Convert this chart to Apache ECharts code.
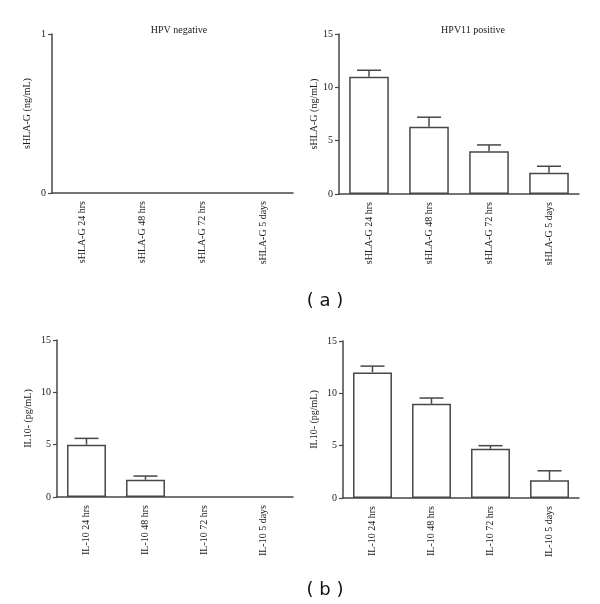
<!DOCTYPE html>
<html>
<head>
<meta charset="utf-8">
<script src="https://cdn.jsdelivr.net/npm/echarts@6/dist/echarts.min.js"></script>
<style>html,body{margin:0;padding:0;background:#fff;}#c{width:600px;height:604px;}</style>
</head>
<body>
<div id="c"></div>
<script>
const categoriesHLA = ['sHLA-G 24 hrs', 'sHLA-G 48 hrs', 'sHLA-G 72 hrs', 'sHLA-G 5 days'];
const categoriesIL = ['IL-10 24 hrs', 'IL-10 48 hrs', 'IL-10 72 hrs', 'IL-10 5 days'];
const hlaNeg = [0, 0, 0, 0];
const hlaNegErr = [0, 0, 0, 0];
const hlaPos = [11.0, 6.3, 4.0, 2.0];
const hlaPosErr = [0.6, 0.9, 0.6, 0.6];
const ilNeg = [5.0, 1.65, 0, 0];
const ilNegErr = [0.6, 0.35, 0, 0];
const ilPos = [12.0, 9.0, 4.7, 1.7];
const ilPosErr = [0.6, 0.55, 0.3, 0.9];
const titles = ['HPV negative', 'HPV11 positive'];
const yNames = ['sHLA-G (ng/mL)', 'sHLA-G (ng/mL)', 'IL10- (pg/mL)', 'IL10- (pg/mL)'];
const yMax = [1, 15, 15, 15];
const yInterval = [1, 5, 5, 5];

const SERIF = '"Liberation Serif", "DejaVu Serif", serif';
const LINE = '#474747';
const TEXT = '#1a1a1a';

const panels = [
  {cats: categoriesHLA, vals: hlaNeg, errs: hlaNegErr, grid: {left: 52, top: 34, width: 241, height: 159}},
  {cats: categoriesHLA, vals: hlaPos, errs: hlaPosErr, grid: {left: 339, top: 34, width: 240, height: 160}},
  {cats: categoriesIL, vals: ilNeg, errs: ilNegErr, grid: {left: 57, top: 340, width: 236, height: 157}},
  {cats: categoriesIL, vals: ilPos, errs: ilPosErr, grid: {left: 343, top: 341, width: 236, height: 157}}
];

const grid = [], xAxis = [], yAxis = [], series = [];
panels.forEach((p, i) => {
  grid.push(Object.assign({containLabel: false}, p.grid));
  xAxis.push({
    type: 'category', gridIndex: i, data: p.cats,
    axisLine: {lineStyle: {color: LINE, width: 1.5}},
    axisTick: {alignWithLabel: true, length: 4, lineStyle: {color: LINE, width: 1.2}},
    axisLabel: {rotate: 90, margin: 8, color: TEXT, fontFamily: SERIF, fontSize: 10}
  });
  yAxis.push({
    type: 'value', gridIndex: i, min: 0, max: yMax[i], interval: yInterval[i],
    name: yNames[i], nameLocation: 'middle', nameGap: i >= 2 ? 24 : 20,
    nameTextStyle: {color: TEXT, fontFamily: SERIF, fontSize: 10},
    axisLine: {show: true, lineStyle: {color: LINE, width: 1.5}},
    axisTick: {show: true, length: 4, lineStyle: {color: LINE, width: 1.2}},
    axisLabel: {margin: 6, color: TEXT, fontFamily: SERIF, fontSize: 10},
    splitLine: {show: false}
  });
  series.push({
    type: 'bar', xAxisIndex: i, yAxisIndex: i,
    data: p.vals.map(v => v ? v : {value: v, itemStyle: {borderWidth: 0}}),
    barWidth: '66%',
    itemStyle: {color: '#fff', borderColor: LINE, borderWidth: 1.5},
    silent: true
  });
  series.push({
    type: 'custom', xAxisIndex: i, yAxisIndex: i,
    data: p.vals.map((v, k) => [k, v, p.errs[k]]),
    encode: {x: 0, y: 1},
    renderItem: function (params, api) {
      const x = api.value(0), v = api.value(1), e = api.value(2);
      if (!e) return null;
      const b = api.coord([x, v]);
      const t = api.coord([x, v + e]);
      const half = 12;
      const st = {stroke: LINE, lineWidth: 1.5, fill: null};
      return {type: 'group', children: [
        {type: 'line', shape: {x1: b[0], y1: b[1], x2: t[0], y2: t[1]}, style: st},
        {type: 'line', shape: {x1: t[0] - half, y1: t[1], x2: t[0] + half, y2: t[1]}, style: st}
      ]};
    },
    z: 3, silent: true
  });
});

const chart = echarts.init(document.getElementById('c'), null, {renderer: 'canvas'});
chart.setOption({
  backgroundColor: '#fff',
  animation: false,
  title: [
    {text: titles[0], left: 174, top: 20, textAlign: 'center', textStyle: {color: TEXT, fontFamily: SERIF, fontSize: 10, fontWeight: 'normal'}},
    {text: titles[1], left: 468, top: 20, textAlign: 'center', textStyle: {color: TEXT, fontFamily: SERIF, fontSize: 10, fontWeight: 'normal'}},
    {text: '( a )', left: 320, top: 287, textAlign: 'center', textStyle: {color: '#111', fontFamily: '"DejaVu Sans", sans-serif', fontSize: 18, fontWeight: 'normal'}},
    {text: '( b )', left: 320, top: 576, textAlign: 'center', textStyle: {color: '#111', fontFamily: '"DejaVu Sans", sans-serif', fontSize: 18, fontWeight: 'normal'}}
  ],
  grid: grid,
  xAxis: xAxis,
  yAxis: yAxis,
  series: series
});
</script>
</body>
</html>
